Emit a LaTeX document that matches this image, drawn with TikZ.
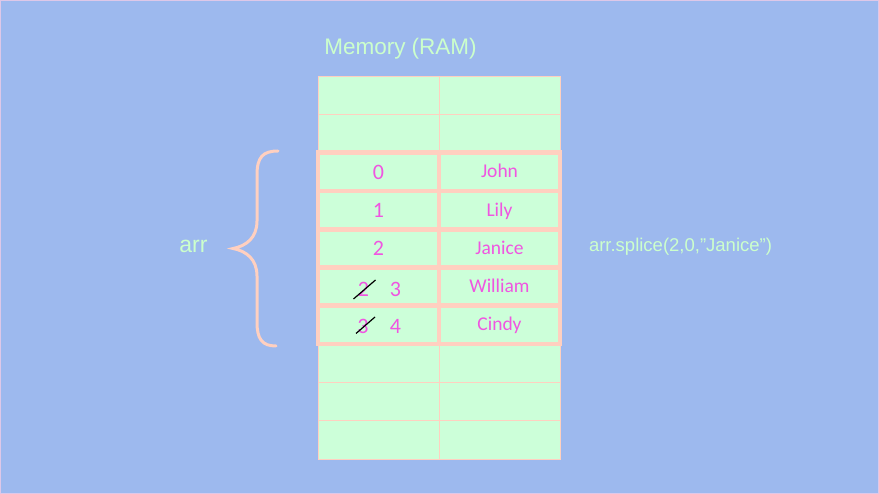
\documentclass[tikz,border=0pt]{standalone}
\usepackage{fontspec}
\setmainfont{Liberation Sans}
\newfontfamily\cellfont{Carlito}
\definecolor{bg}{RGB}{157,185,238}
\definecolor{cellgreen}{RGB}{204,255,217}
\definecolor{salmon}{RGB}{255,208,192}
\definecolor{mag}{RGB}{240,85,225}
\definecolor{ltgreen}{RGB}{204,255,204}
\definecolor{edge}{RGB}{222,200,232}
\begin{document}
\begin{tikzpicture}[x=1pt,y=-1pt,
  cell/.style={draw=salmon, line width=0.8pt, fill=cellgreen,
    minimum width=121pt, minimum height=38.3pt, inner sep=0pt, outer sep=0pt,
    font=\cellfont\fontsize{19.5}{22}\selectfont, text=mag,
    text height=14pt, text depth=2pt},
  hcell/.style={cell, line width=4.7pt},
  icell/.style={hcell, font=\cellfont\fontsize{22}{24}\selectfont,
    text height=16pt, text depth=1pt},
  digit/.style={anchor=base, inner sep=0pt, text=mag,
    font=\cellfont\fontsize{22}{24}\selectfont},
  lbl/.style={text=ltgreen, inner sep=0pt},
  brace/.style={draw=salmon, line width=3pt, line cap=round},
  strike/.style={draw=black, line width=1.2pt}
]
\useasboundingbox (0,0) rectangle (879,494);
\fill[bg] (0,0) rectangle (879,494);
\draw[edge, line width=1pt] (0.5,0.5) rectangle (878.5,493.5);

% plain memory cells
\foreach \i in {0,1,7,8,9} {
  \pgfmathsetmacro\yc{76+38.3*(\i+0.5)}
  \node[cell] (L\i) at (378.5,\yc) {};
  \node[cell] (R\i) at (499.5,\yc) {};
}

% highlighted array cells
\node[icell] (L2) at (378.5,171.75) {0};
\node[hcell] (R2) at (499.5,171.75) {John};
\node[icell] (L3) at (378.5,210.05) {1};
\node[hcell] (R3) at (499.5,210.05) {Lily};
\node[icell] (L4) at (378.5,248.35) {2};
\node[hcell] (R4) at (499.5,248.35) {Janice};
\node[hcell] (L5) at (378.5,286.65) {};
\node[hcell] (R5) at (499.5,286.65) {William};
\node[hcell] (L6) at (378.5,324.95) {};
\node[hcell] (R6) at (499.5,324.95) {Cindy};

% shifted indices
\node[digit] (old5) at (363.5,296.5) {2};
\node[digit] (new5) at (395.5,296.5) {3};
\node[digit] (old6) at (363,333.5) {3};
\node[digit] (new6) at (395.5,333.5) {4};
\coordinate (s1a) at (353.5,299);
\coordinate (s1b) at (375.5,280);
\coordinate (s2a) at (356,333.5);
\coordinate (s2b) at (375,317);
\draw[strike] (s1a) -- (s1b);
\draw[strike] (s2a) -- (s2b);

% labels
\node[lbl, anchor=base, font=\fontsize{22.5}{27}\selectfont] (title) at (400.5,54.5) {Memory (RAM)};
\node[lbl, font=\fontsize{23}{27}\selectfont] (arr) at (193.5,246.7) {arr};
\node[lbl, anchor=base, font=\fontsize{18.5}{22}\selectfont] (code) at (680.5,252) {arr.splice(2,0,”Janice”)};

% brace
\draw[brace] (278,151) .. controls (263,151) and (257,157) .. (257,175)
  -- (257,221) .. controls (257,238) and (246,246) .. (233,248.5)
  .. controls (246,251) and (257,259) .. (257,276)
  -- (257,322) .. controls (257,339) and (262,346) .. (276,346);
\end{tikzpicture}
\end{document}
